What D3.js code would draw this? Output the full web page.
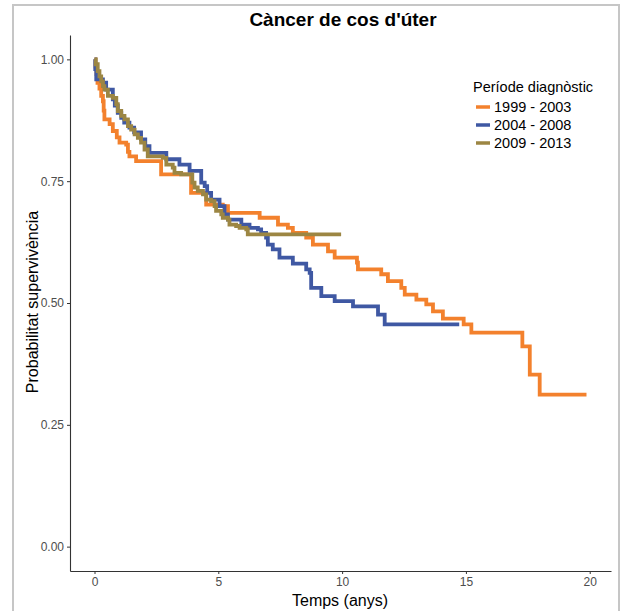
<!DOCTYPE html>
<html>
<head>
<meta charset="utf-8">
<script src="https://cdn.jsdelivr.net/npm/d3@7"></script>
<style>
  body { margin: 0; background: #fff; }
  svg { font-family: "Liberation Sans", Arial, sans-serif; display: block; }
</style>
</head>
<body>
<div id="chart"></div>
<script>
// survival data (time in years, survival probability after that time)
var periods = ["1999 - 2003", "2004 - 2008", "2009 - 2013"];
var colors = ["#f3812d", "#3f58a3", "#9c8643"];

var times1999 = [0, 0.04, 0.08, 0.12, 0.2, 0.27, 0.34, 0.37, 0.40, 0.61, 0.74, 0.9, 1.01, 1.28, 1.35, 1.41, 1.68, 2.69, 3.9, 4.51, 5.18, 5.39, 6.67, 7.41, 7.81, 8.01, 8.55, 8.82, 9.43, 9.70, 10.6, 10.64, 11.58, 11.85, 12.39, 12.53, 13.0, 13.4, 13.67, 14.07, 14.91, 15.22, 17.28, 17.58, 17.98, 19.87];
var surv1999 = [1, 0.985, 0.97, 0.952, 0.94, 0.925, 0.914, 0.895, 0.877, 0.867, 0.853, 0.84, 0.829, 0.825, 0.81, 0.801, 0.791, 0.764, 0.726, 0.702, 0.699, 0.685, 0.675, 0.661, 0.654, 0.644, 0.634, 0.620, 0.606, 0.593, 0.583, 0.569, 0.559, 0.545, 0.531, 0.517, 0.507, 0.497, 0.483, 0.468, 0.456, 0.439, 0.411, 0.353, 0.312, 0.312];

var times2004 = [0, 0.03, 0.07, 0.34, 0.47, 0.74, 0.82, 0.94, 1.08, 1.2, 1.41, 1.6, 1.88, 2.05, 2.22, 2.9, 3.43, 3.84, 4.31, 4.45, 4.55, 4.71, 5.05, 5.25, 5.39, 5.93, 6.26, 6.6, 6.73, 6.93, 7.0, 7.2, 7.47, 8.01, 8.55, 8.69, 8.75, 9.16, 9.70, 10.44, 11.45, 11.72, 14.73];
var surv2004 = [1, 0.98, 0.959, 0.952, 0.938, 0.918, 0.905, 0.890, 0.880, 0.87, 0.860, 0.85, 0.836, 0.822, 0.808, 0.795, 0.784, 0.771, 0.747, 0.74, 0.726, 0.712, 0.699, 0.682, 0.671, 0.661, 0.654, 0.651, 0.644, 0.634, 0.620, 0.610, 0.593, 0.581, 0.569, 0.562, 0.531, 0.514, 0.504, 0.493, 0.476, 0.456, 0.456];

var times2009 = [0, 0.05, 0.13, 0.2, 0.27, 0.34, 0.40, 0.54, 0.74, 0.88, 0.94, 1.08, 1.21, 1.35, 1.48, 1.62, 1.75, 1.88, 2.02, 2.15, 2.76, 2.9, 3.16, 3.23, 3.5, 3.95, 4.04, 4.17, 4.38, 4.51, 4.71, 4.85, 4.91, 5.12, 5.18, 5.39, 5.45, 5.72, 5.86, 6.13, 6.19, 9.96];
var surv2009 = [1, 0.99, 0.976, 0.965, 0.955, 0.945, 0.938, 0.925, 0.921, 0.908, 0.894, 0.884, 0.877, 0.863, 0.856, 0.846, 0.839, 0.829, 0.815, 0.801, 0.798, 0.784, 0.778, 0.767, 0.764, 0.747, 0.737, 0.730, 0.723, 0.712, 0.709, 0.699, 0.689, 0.682, 0.675, 0.671, 0.661, 0.658, 0.654, 0.651, 0.641, 0.641];

var xTicks = [0, 5, 10, 15, 20];
var yTicks = [0, 0.25, 0.5, 0.75, 1];

var series = [
  { name: periods[0], color: colors[0], t: times1999, s: surv1999 },
  { name: periods[1], color: colors[1], t: times2004, s: surv2004 },
  { name: periods[2], color: colors[2], t: times2009, s: surv2009 }
];

var W = 624, H = 611;

var svg = d3.select("#chart").append("svg")
    .attr("width", W)
    .attr("height", H);

// outer frame
svg.append("rect")
    .attr("x", 13).attr("y", 5)
    .attr("width", 606).attr("height", 640)
    .attr("fill", "none")
    .attr("stroke", "#c6c6c6")
    .attr("stroke-width", 2);

// scales (ggplot style 5% expansion)
var x = d3.scaleLinear().domain([-0.99, 20.86]).range([70, 611]);
var y = d3.scaleLinear().domain([-0.05, 1.05]).range([571, 35]);

// axes
var xAxis = svg.append("g")
    .attr("transform", "translate(0,571)")
    .call(d3.axisBottom(x).tickValues(xTicks).tickSize(3).tickSizeOuter(0).tickPadding(3));
var yAxis = svg.append("g")
    .attr("transform", "translate(70,0)")
    .call(d3.axisLeft(y).tickValues(yTicks).tickFormat(d3.format(".2f")).tickSize(3).tickSizeOuter(0).tickPadding(3));

[xAxis, yAxis].forEach(function (g) {
  g.select(".domain").attr("stroke", "#333").attr("stroke-width", 1.1);
  g.selectAll(".tick line").attr("stroke", "#333");
  g.selectAll(".tick text")
      .attr("fill", "#4d4d4d")
      .style("font-size", "12px")
      .style("font-family", "'Liberation Sans', Arial, sans-serif");
});

// survival step curves
var line = d3.line()
    .x(function (d) { return x(d[0]); })
    .y(function (d) { return y(d[1]); })
    .curve(d3.curveStepAfter);

svg.selectAll(".km")
    .data(series)
    .enter().append("path")
    .attr("class", "km")
    .attr("d", function (d) { return line(d.t.map(function (t, i) { return [t, d.s[i]]; })); })
    .attr("fill", "none")
    .attr("stroke", function (d) { return d.color; })
    .attr("stroke-width", 3.8)
    .attr("stroke-linejoin", "miter");

// title
svg.append("text")
    .attr("x", 343).attr("y", 26)
    .attr("text-anchor", "middle")
    .style("font-size", "19px")
    .style("font-weight", "bold")
    .text("Càncer de cos d'úter");

// axis titles
svg.append("text")
    .attr("x", 340).attr("y", 606)
    .attr("text-anchor", "middle")
    .style("font-size", "16px")
    .text("Temps (anys)");

svg.append("text")
    .attr("transform", "translate(38,302) rotate(-90)")
    .attr("text-anchor", "middle")
    .style("font-size", "16px")
    .text("Probabilitat supervivència");

// legend
var legend = svg.append("g").attr("transform", "translate(473,0)");
legend.append("text")
    .attr("x", 0).attr("y", 92)
    .style("font-size", "14.5px")
    .text("Període diagnòstic");

var items = legend.selectAll(".item")
    .data(series)
    .enter().append("g")
    .attr("class", "item")
    .attr("transform", function (d, i) { return "translate(0," + (107 + i * 18) + ")"; });

items.append("line")
    .attr("x1", 3).attr("x2", 17)
    .attr("y1", 0).attr("y2", 0)
    .attr("stroke", function (d) { return d.color; })
    .attr("stroke-width", 3.5);

items.append("text")
    .attr("x", 21).attr("y", 5)
    .style("font-size", "14.5px")
    .text(function (d) { return d.name; });
</script>
</body>
</html>
